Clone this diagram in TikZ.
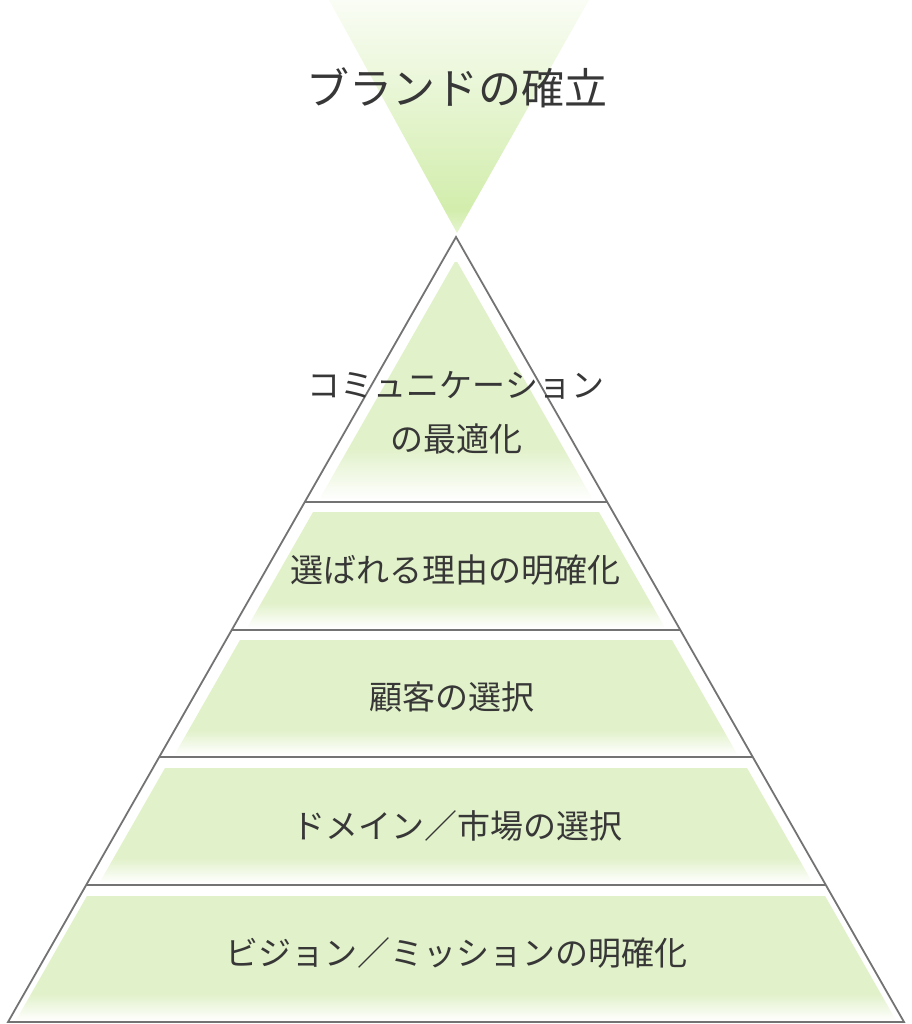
\documentclass[tikz,border=0pt]{standalone}
\usepackage{fontspec}
\setmainfont{Noto Sans CJK JP}
\usetikzlibrary{calc}
\definecolor{bandgreen}{RGB}{225,241,201}
\definecolor{topgreen}{RGB}{210,237,172}
\definecolor{edgegray}{RGB}{115,115,115}
\definecolor{textgray}{RGB}{55,55,55}
\pgfdeclareverticalshading{bandfade}{100bp}{color(0bp)=(white); color(25bp)=(white); color(36bp)=(bandgreen); color(100bp)=(bandgreen)}
\pgfdeclareverticalshading{topfade}{100bp}{color(0bp)=(white); color(25bp)=(white!45!topgreen); color(30bp)=(topgreen); color(75bp)=(white!88!topgreen); color(100bp)=(white)}
\tikzstyle{band} = [shading=bandfade]
\tikzstyle{outline} = [draw=edgegray, line width=1.8pt]
\tikzstyle{tier} = [text=textgray, font=\fontsize{33}{54}\selectfont, align=center, inner sep=0pt]
\tikzstyle{title} = [text=textgray, font=\fontsize{43}{48}\selectfont, inner sep=0pt]

\begin{document}
\begin{tikzpicture}[x=1pt, y=-1pt]
            \useasboundingbox (0,0) rectangle (911,1024);

            % funnel above the pyramid
            \shade [shading=topfade] (329,0) -- (589,0) -- (457,233) -- cycle;

            % green fills, one per tier
            \foreach \t/\b/\i in {262/500/13, 512/628/14, 640/755/14, 768/883/12, 896/1021/7}{
                \pgfmathsetmacro\tl{456-0.5707*(\t-237)+\i}
                \pgfmathsetmacro\tr{456+0.5707*(\t-237)-\i}
                \pgfmathsetmacro\bl{456-0.5707*(\b-237)+\i}
                \pgfmathsetmacro\br{456+0.5707*(\b-237)-\i}
                \shade [band] (\tl,\t) -- (\tr,\t) -- (\br,\b) -- (\bl,\b) -- cycle;
            }

            \coordinate (apex) at (456,237);
            \coordinate (baseL) at (8,1022);
            \coordinate (baseR) at (904,1022);
            \draw [outline] (apex) -- (baseR) -- (baseL) -- cycle;
            \foreach \p in {0.3376, 0.5006, 0.6624, 0.8255}
                \draw [outline] ($(apex)!\p!(baseL)$) -- ($(apex)!\p!(baseR)$);

            \node [title] at (457,88) (brand) {ブランドの確立};
            \node [tier] at (456,413) (comm) {コミュニケーション\\の最適化};
            \node [tier] at (455,570) (reason) {選ばれる理由の明確化};
            \node [tier] at (452,697) (customer) {顧客の選択};
            \node [tier] at (457,826) (domain) {ドメイン／市場の選択};
            \node [tier] at (456,953) (vision) {ビジョン／ミッションの明確化};
\end{tikzpicture}
\end{document}
